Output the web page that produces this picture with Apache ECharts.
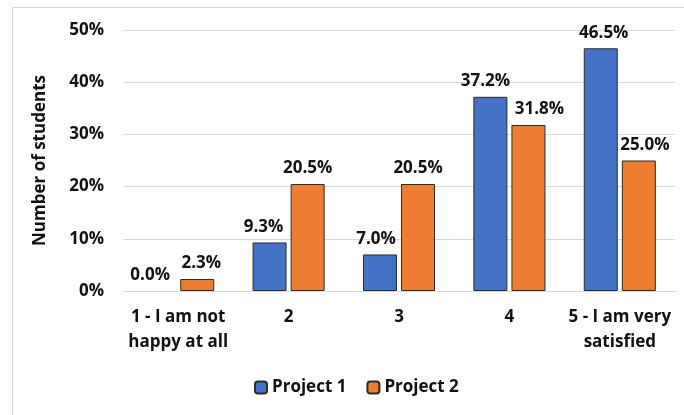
<!DOCTYPE html>
<html>
<head>
<meta charset="utf-8">
<script src="https://cdn.jsdelivr.net/npm/echarts@6/dist/echarts.min.js"></script>
<style>
  html, body { margin: 0; padding: 0; background: #fff; }
  #chart { width: 684px; height: 415px; }
</style>
</head>
<body>
<div id="chart"></div>
<script>
// Satisfaction ratings (share of students, %)
const categories = ['1 - I am not\nhappy at all', '2', '3', '4', '5 - I am very\nsatisfied'];
const project1 = [0.0, 9.3, 7.0, 37.2, 46.5];
const project2 = [2.3, 20.5, 20.5, 31.8, 25.0];
const seriesNames = ['Project 1', 'Project 2'];
const yTicks = [0, 10, 20, 30, 40, 50];

// horizontal nudges (px) keeping neighbouring value labels apart
const labelShift1 = [-9, -6, -4, -5, 3];
const labelShift2 = [4, 0, 0, 11, 6];

const FONT = '"Open Sans"';
const SIZE = 17;
const TEXT = '#111';

const chart = echarts.init(document.getElementById('chart'), null, { renderer: 'canvas' });

const labelStyle = {
  show: true,
  position: 'top',
  distance: 7,
  fontFamily: FONT,
  fontWeight: 'bold',
  fontSize: SIZE,
  color: TEXT,
  formatter: p => p.value.toFixed(1) + '%'
};

// zero-height bars get no outline so they stay invisible
const toItems = (arr, shifts) => arr.map((v, i) => {
  const item = { value: v, label: { offset: [shifts[i], 0] } };
  if (v === 0) item.itemStyle = { borderWidth: 0 };
  return item;
});

chart.setOption({
  animation: false,
  backgroundColor: '#fff',
  graphic: [
    { type: 'line', shape: { x1: 12, y1: 7.5, x2: 684, y2: 7.5 }, style: { stroke: '#d9d9d9', lineWidth: 1 } },
    { type: 'line', shape: { x1: 12.5, y1: 7, x2: 12.5, y2: 415 }, style: { stroke: '#d9d9d9', lineWidth: 1 } }
  ],
  grid: { left: 123, right: 9, top: 30, bottom: 124 },
  legend: {
    data: seriesNames,
    bottom: 14,
    left: 249,
    itemWidth: 12,
    itemHeight: 12,
    itemGap: 20,
    textStyle: { fontFamily: FONT, fontWeight: 'bold', fontSize: SIZE, color: TEXT }
  },
  xAxis: {
    type: 'category',
    data: categories,
    axisLine: { show: true, lineStyle: { color: '#d9d9d9', width: 1 } },
    axisTick: { show: false },
    axisLabel: {
      fontFamily: FONT, fontWeight: 'bold', fontSize: SIZE, color: TEXT,
      lineHeight: 25, margin: 14, interval: 0
    }
  },
  yAxis: {
    type: 'value',
    min: yTicks[0],
    max: yTicks[yTicks.length - 1],
    interval: 10,
    name: 'Number of students',
    nameLocation: 'middle',
    nameGap: 74,
    nameRotate: 90,
    nameTextStyle: { fontFamily: FONT, fontWeight: 'bold', fontSize: SIZE, color: TEXT },
    axisLine: { show: false },
    axisTick: { show: false },
    splitLine: { lineStyle: { color: '#d9d9d9', width: 1 } },
    axisLabel: {
      fontFamily: FONT, fontWeight: 'bold', fontSize: SIZE, color: TEXT, margin: 19,
      formatter: v => v + '%'
    }
  },
  series: [
    {
      name: seriesNames[0], type: 'bar', data: toItems(project1, labelShift1),
      barWidth: 34, barGap: '12%',
      itemStyle: { color: '#4472C4', borderColor: '#2b2b2b', borderWidth: 1 },
      label: labelStyle
    },
    {
      name: seriesNames[1], type: 'bar', data: toItems(project2, labelShift2),
      barWidth: 34,
      itemStyle: { color: '#ED7D31', borderColor: '#2b2b2b', borderWidth: 1 },
      label: labelStyle
    }
  ]
});
</script>
</body>
</html>
